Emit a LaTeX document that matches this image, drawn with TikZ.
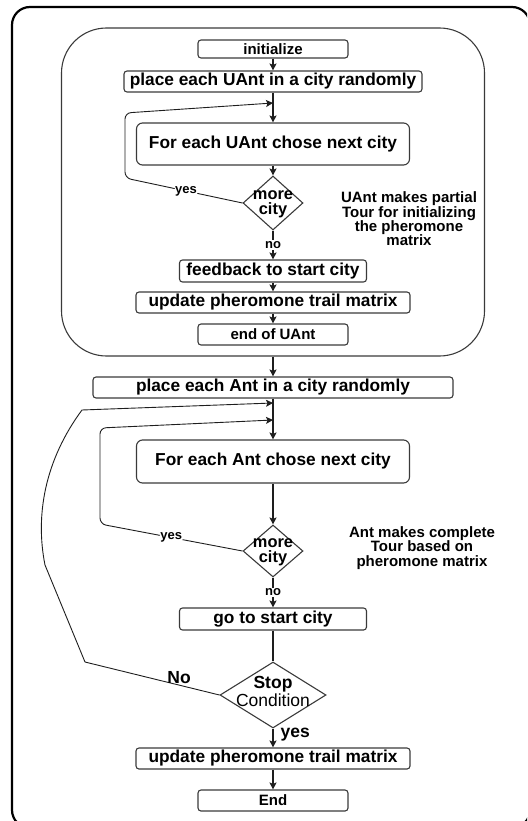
\documentclass[tikz,border=0pt]{standalone}
\usepackage{fontspec}
\setmainfont{Liberation Sans}
\usetikzlibrary{arrows.meta,shapes.geometric,positioning}
\definecolor{boxgray}{HTML}{3A3A3A}
\definecolor{linegray}{HTML}{1E1E1E}

\begin{document}
\begin{tikzpicture}[
  x=1pt, y=-1pt,
  box/.style={draw=boxgray, line width=1.1pt, rounded corners=3pt, minimum height=21pt, inner sep=0pt, font=\fontsize{17.3}{18}\selectfont\bfseries},
  smallbox/.style={box, font=\fontsize{15}{16}\selectfont\bfseries},
  bigbox/.style={box, rounded corners=6pt, minimum height=42pt},
  dec/.style={diamond, draw=boxgray, line width=1.1pt, inner sep=0pt},
  dectxt/.style={font=\fontsize{16.4}{15}\selectfont\bfseries, align=center, inner sep=0pt},
  arrow/.style={-{Stealth[length=7pt,width=7pt,inset=1.5pt]}, line width=1.1pt, draw=linegray},
  loopline/.style={arrow, line width=0.9pt},
  lbl/.style={font=\fontsize{13}{13}\selectfont\bfseries, fill=white, inner sep=1pt},
  lblbig/.style={font=\fontsize{17.5}{18}\selectfont\bfseries, inner sep=1pt},
  note/.style={font=\fontsize{15}{14.4}\selectfont\bfseries, align=center},
]
\useasboundingbox (0,0) rectangle (527,821);
\clip (0,0) rectangle (527,821);

% ── outer frame ──
\draw[line width=2.2pt, rounded corners=18pt] (12,7) rectangle (530,828);

% ── UAnt part ──
\node[draw=boxgray, line width=1.1pt, rounded corners=45pt, minimum width=423pt, minimum height=328pt, inner sep=0pt] (uantloop) at (273,192) {};

\node[smallbox, minimum width=150pt, minimum height=18pt] (init) at (273,49) {initialize};
\node[box, minimum width=298pt] (placeU) at (273,81.5) {place each UAnt in a city randomly};
\node[bigbox, minimum width=273pt] (forU) at (273,144) {For each UAnt chose next city};
\node[dec, minimum width=60pt, minimum height=54pt, label={[dectxt, yshift=-1pt]center:more\\city}] (moreU) at (273,203) {};
\node[box, minimum width=187pt, minimum height=22pt] (feedU) at (273,271) {feedback to start city};
\node[box, minimum width=274pt] (updU) at (273,302.5) {update pheromone trail matrix};
\node[smallbox, minimum width=150pt] (endU) at (273,334.5) {end of UAnt};

\node[note] (noteU) at (409,219) {UAnt makes partial\\Tour for initializing\\the pheromone\\matrix};

\coordinate (jU) at (273,103);

\draw[arrow] (init) -- (placeU);
\draw[arrow] (placeU) -- (forU);
\draw[arrow] (forU) -- (moreU);
\draw[arrow] (moreU) -- node[lbl, pos=0.5]{no} (feedU);
\draw[arrow] (feedU) -- (updU);
\draw[arrow] (updU) -- (endU);
\draw[loopline, rounded corners=6pt] (moreU.west) -- node[lbl, pos=0.48]{yes} (125,178) -- (125,113) -- (jU);

% ── Ant part ──
\node[box, minimum width=360pt] (placeA) at (273,387.5) {place each Ant in a city randomly};
\node[bigbox, minimum width=273pt, minimum height=43pt] (forA) at (273,461.5) {For each Ant chose next city};
\node[dec, minimum width=60pt, minimum height=52pt, label={[dectxt, yshift=-1pt]center:more\\city}] (moreA) at (273,551) {};
\node[box, minimum width=187pt, minimum height=22pt] (goA) at (273,619) {go to start city};
\node[dec, minimum width=106pt, minimum height=66pt, label={[dectxt, font=\fontsize{17.5}{18}\selectfont, yshift=4pt]center:{\bfseries Stop}\\{\mdseries Condition}}] (stop) at (273,695) {};
\node[box, minimum width=274pt] (updA) at (273,758.5) {update pheromone trail matrix};
\node[smallbox, minimum width=150pt] (fin) at (273,800.5) {End};

\node[note] (noteA) at (422,548) {Ant makes complete\\Tour based on\\pheromone matrix};

\coordinate (jA1) at (273,403);
\coordinate (jA2) at (273,420);

\draw[arrow] (uantloop) -- (placeA);
\draw[arrow] (placeA) -- (forA);
\draw[arrow] (forA) -- (moreA);
\draw[arrow] (moreA) -- node[lbl, pos=0.5]{no} (goA);
\draw[line width=1.1pt, linegray] (goA) -- (stop);
\draw[arrow] (stop) -- node[lblbig, right=6pt, pos=0.3]{yes} (updA);
\draw[arrow] (updA) -- (fin);
\draw[loopline, rounded corners=6pt] (moreA.west) -- node[lbl, pos=0.5]{yes} (100,524) -- (100,428) -- (jA2);

% No loop back to the Ant start
\draw[loopline] (stop.west) -- node[lblbig, pos=0.3, above]{No} (85,662) -- (45,565) .. controls (35,515) and (45,460) .. (82,410) -- (jA1);

\end{tikzpicture}
\end{document}
